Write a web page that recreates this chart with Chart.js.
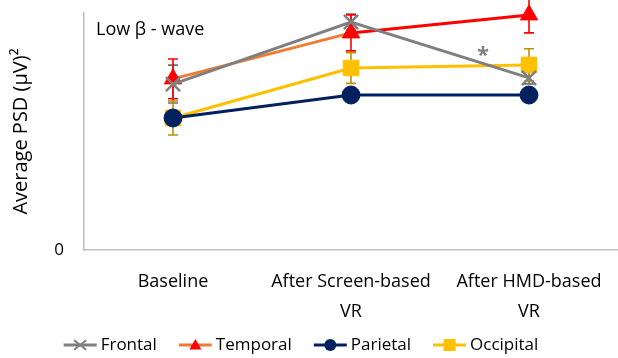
<!DOCTYPE html>
<html>
<head>
<meta charset="utf-8">
<script src="https://cdn.jsdelivr.net/npm/chart.js@4.4.1/dist/chart.umd.min.js"></script>
<style>
  html, body { margin: 0; padding: 0; background: #fff; }
  #wrap { width: 618px; height: 358px; }
</style>
</head>
<body>
<div id="wrap"><canvas id="psdChart" width="618" height="358"></canvas></div>
<script>
// categories and series (arbitrary PSD units, axis only labels 0)
const categories = ['Baseline', ['After Screen-based', 'VR'], ['After HMD-based', 'VR']];
const frontal = [70.0, 96.2, 72.6];
const temporal = [72.2, 91.6, 99.2];
const parietal = [55.7, 65.4, 65.4];
const occipital = [55.7, 76.8, 78.1];
// error bar half-lengths
const frontalErr = [8.0, 3.4, 2.5];
const temporalErr = [8.4, 7.6, 7.6];
const parietalErr = [2.5, 2.0, 2.0];
const occipitalErr = [7.2, 6.5, 6.8];
const yTicks = [0];

const FONT = '"Open Sans", Lato, sans-serif';
const GRAY = '#7f7f7f';
const ORANGE = '#ed7d31';
const RED = '#ff0000';
const NAVY = '#002060';
const GOLD = '#ffc000';

function drawMarker(g, kind, x, y, s, color) {
  g.fillStyle = color;
  g.strokeStyle = color;
  if (kind === 'cross') {
    g.lineWidth = 2;
    g.beginPath();
    g.moveTo(x - s, y - s * 0.8); g.lineTo(x + s, y + s * 0.8);
    g.moveTo(x + s, y - s * 0.8); g.lineTo(x - s, y + s * 0.8);
    g.stroke();
  } else if (kind === 'triangle') {
    g.beginPath(); g.moveTo(x, y - s); g.lineTo(x + s, y + s * 0.75); g.lineTo(x - s, y + s * 0.75);
    g.closePath(); g.fill();
  } else if (kind === 'circle') {
    g.beginPath(); g.arc(x, y, s, 0, Math.PI * 2); g.fill();
  } else {
    g.fillRect(x - s, y - s, 2 * s, 2 * s);
  }
}

const errorBars = {
  id: 'errorBars',
  beforeDatasetsDraw(chart) {
    const ctx = chart.ctx;
    const y = chart.scales.y;
    chart.data.datasets.forEach((ds, i) => {
      const meta = chart.getDatasetMeta(i);
      ctx.save();
      ctx.strokeStyle = ds.errColor;
      ctx.lineWidth = 1.6;
      meta.data.forEach((pt, j) => {
        const v = ds.data[j], e = ds.err[j];
        const top = y.getPixelForValue(v + e);
        const bot = y.getPixelForValue(v - e);
        ctx.beginPath();
        ctx.moveTo(pt.x, top); ctx.lineTo(pt.x, bot);
        ctx.moveTo(pt.x - 5, top); ctx.lineTo(pt.x + 5, top);
        ctx.moveTo(pt.x - 5, bot); ctx.lineTo(pt.x + 5, bot);
        ctx.stroke();
      });
      ctx.restore();
    });
  }
};

const notes = {
  id: 'notes',
  afterDraw(chart) {
    const ctx = chart.ctx;
    const a = chart.chartArea;
    ctx.save();
    ctx.fillStyle = '#000';
    ctx.font = '18px ' + FONT;
    ctx.textBaseline = 'middle';
    ctx.fillText('Low β - wave', a.left + 12, a.top + 17);
    ctx.fillStyle = GRAY;
    ctx.font = 'bold 22px ' + FONT;
    ctx.textAlign = 'center';
    ctx.fillText('*', chart.scales.x.getPixelForValue(2) - 46, chart.scales.y.getPixelForValue(82));
    ctx.restore();
  }
};

// legend: line + marker swatch, then the series name
const lineLegend = {
  id: 'lineLegend',
  afterDraw(chart) {
    const ctx = chart.ctx;
    const y = 345, lineLen = 33, gap = 4, itemGap = 22;
    ctx.save();
    ctx.font = '17px ' + FONT;
    ctx.textBaseline = 'middle';
    const items = chart.data.datasets.map(ds => ({ ds, w: ctx.measureText(ds.label).width }));
    const total = items.reduce((s, it) => s + lineLen + gap + it.w, 0) + itemGap * (items.length - 1);
    let x = 301 - total / 2;
    items.forEach(it => {
      ctx.strokeStyle = it.ds.legendLine;
      ctx.lineWidth = 3;
      ctx.beginPath(); ctx.moveTo(x, y); ctx.lineTo(x + lineLen, y); ctx.stroke();
      drawMarker(ctx, it.ds.legendMarker, x + lineLen / 2, y, 6, it.ds.pointBackgroundColor);
      ctx.fillStyle = '#000';
      ctx.fillText(it.ds.label, x + lineLen + gap, y);
      x += lineLen + gap + it.w + itemGap;
    });
    ctx.restore();
  }
};

const ctx = document.getElementById('psdChart').getContext('2d');
new Chart(ctx, {
  type: 'line',
  data: {
    labels: categories,
    datasets: [
      {
        label: 'Frontal', data: frontal, err: frontalErr, errColor: '#6f6f6f',
        borderColor: GRAY, borderWidth: 3,
        pointStyle: 'crossRot', pointRadius: 10, pointBorderWidth: 2.5,
        pointBorderColor: GRAY, pointBackgroundColor: GRAY,
        legendLine: GRAY, legendMarker: 'cross'
      },
      {
        label: 'Temporal', data: temporal, err: temporalErr, errColor: RED,
        borderColor: ORANGE, borderWidth: 3,
        segment: { borderColor: c => c.p0DataIndex === 1 ? RED : ORANGE },
        pointStyle: 'triangle', pointRadius: 10, pointBorderWidth: 1,
        pointBorderColor: RED, pointBackgroundColor: RED,
        legendLine: ORANGE, legendMarker: 'triangle'
      },
      {
        label: 'Parietal', data: parietal, err: parietalErr, errColor: NAVY,
        borderColor: NAVY, borderWidth: 3,
        pointStyle: 'circle', pointRadius: 9, pointBorderWidth: 1,
        pointBorderColor: NAVY, pointBackgroundColor: NAVY,
        legendLine: NAVY, legendMarker: 'circle'
      },
      {
        label: 'Occipital', data: occipital, err: occipitalErr, errColor: '#bf9000',
        borderColor: GOLD, borderWidth: 3,
        pointStyle: 'rect', pointRadius: 11, pointBorderWidth: 1,
        pointBorderColor: GOLD, pointBackgroundColor: GOLD,
        legendLine: GOLD, legendMarker: 'rect'
      }
    ]
  },
  options: {
    responsive: false,
    animation: false,
    clip: false,
    layout: { autoPadding: false, padding: { top: 13, right: -6, left: 0, bottom: 0 } },
    plugins: {
      tooltip: { enabled: false },
      legend: { display: false }
    },
    scales: {
      x: {
        offset: true,
        grid: { display: false, drawTicks: false },
        border: { color: '#bfbfbf', width: 1.5 },
        ticks: { color: '#000', padding: 17, maxRotation: 0, autoSkip: false,
                 font: { family: FONT, size: 18, lineHeight: 1.65 } },
        afterFit(scale) {
          scale.height = 108;
          scale.paddingLeft = 0;
          scale.paddingRight = 0;
        }
      },
      y: {
        min: 0, max: 100,
        grid: { display: false, drawTicks: false },
        border: { color: '#bfbfbf', width: 1.5 },
        afterBuildTicks(scale) { scale.ticks = yTicks.map(v => ({ value: v })); },
        ticks: { color: '#000', padding: 20, font: { family: FONT, size: 17 } },
        title: { display: true, text: 'Average PSD (μV)²', color: '#000',
                 font: { family: FONT, size: 20 }, padding: { top: 9, bottom: 0 } },
        afterFit(scale) {
          scale.width = 84;
          scale.paddingTop = 0;
          scale.paddingBottom = 0;
        }
      }
    }
  },
  plugins: [errorBars, notes, lineLegend]
});
</script>
</body>
</html>
